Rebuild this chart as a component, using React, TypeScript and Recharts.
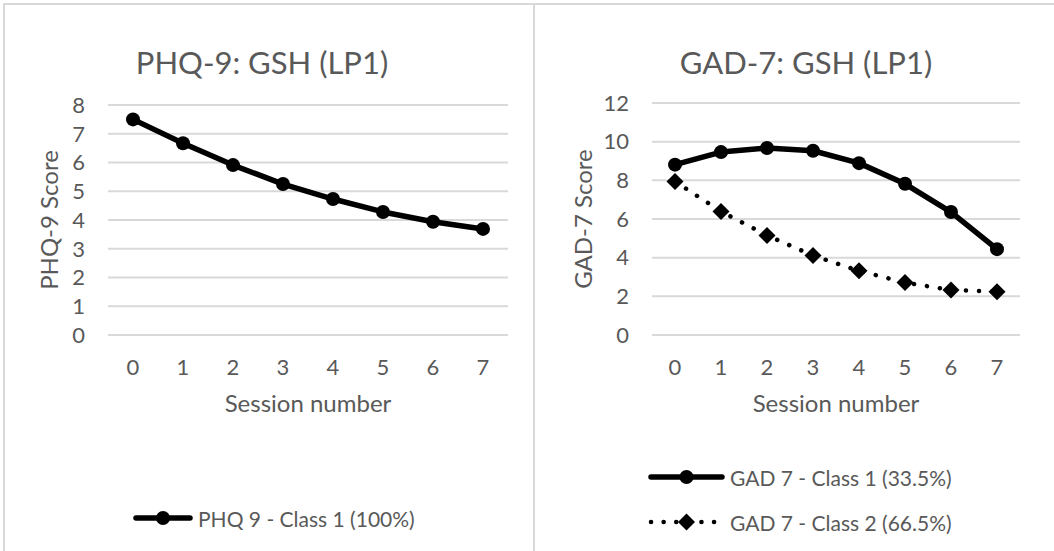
import { LineChart, Line, XAxis, YAxis, CartesianGrid, Legend, Label } from 'recharts'

const FONT = 'Lato, "Open Sans", sans-serif'
const INK = '#595959'
const GRID = '#d9d9d9'
const LINE = '#000000'

const sessions = [0, 1, 2, 3, 4, 5, 6, 7]
const phq9Class1 = [7.5, 6.67, 5.91, 5.25, 4.73, 4.28, 3.94, 3.69]
const gad7Class1 = [8.81, 9.46, 9.67, 9.53, 8.89, 7.82, 6.36, 4.44]
const gad7Class2 = [7.94, 6.39, 5.15, 4.11, 3.32, 2.71, 2.33, 2.24]

const phqTicks = [0, 1, 2, 3, 4, 5, 6, 7, 8]
const gadTicks = [0, 2, 4, 6, 8, 10, 12]

const phqData = sessions.map((s, i) => ({ session: s, phq1: phq9Class1[i] }))
const gadData = sessions.map((s, i) => ({
  session: s,
  gad1: gad7Class1[i],
  gad2: gad7Class2[i],
}))

const DOTTED = '0.1 13'

function Diamond(props: any) {
  const { cx, cy } = props
  if (cx == null || cy == null) return null
  const s = 8.5
  return (
    <polygon
      points={`${cx},${cy - s} ${cx + s},${cy} ${cx},${cy + s} ${cx - s},${cy}`}
      fill={LINE}
    />
  )
}

type Key = { label: string; dotted?: boolean; marker: 'circle' | 'diamond' }

// legend rows: line sample with its marker, then the label
function legendContent(items: Key[], lineW: number, rowGap: number) {
  return () => (
    <div style={{ fontFamily: FONT, color: INK, fontSize: 21 }}>
      {items.map((k, i) => (
        <div
          key={k.label}
          style={{
            display: 'flex',
            alignItems: 'center',
            height: 24,
            marginTop: i ? rowGap : 0,
            whiteSpace: 'nowrap',
          }}
        >
          <svg width={lineW} height={24} style={{ marginRight: 5 }}>
            <line
              x1={3}
              x2={lineW - 3}
              y1={12}
              y2={12}
              stroke={LINE}
              strokeWidth={k.dotted ? 4.5 : 5.5}
              strokeLinecap="round"
              strokeDasharray={k.dotted ? '0.1 12.5' : undefined}
            />
            {k.marker === 'circle' ? (
              <circle cx={lineW / 2} cy={12} r={7} fill={LINE} />
            ) : (
              <Diamond cx={lineW / 2} cy={12} />
            )}
          </svg>
          <span>{k.label}</span>
        </div>
      ))}
    </div>
  )
}

function yTitle(text: string, dx: number) {
  return (props: any) => {
    const { x, y, height } = props.viewBox
    const cx = x + dx
    const cy = y + height / 2
    return (
      <text
        x={cx}
        y={cy}
        transform={`rotate(-90 ${cx} ${cy})`}
        textAnchor="middle"
        dominantBaseline="central"
        fill={INK}
        fontSize={24}
        fontFamily={FONT}
      >
        {text}
      </text>
    )
  }
}

const tickStyle = { fill: INK, fontSize: 22, fontFamily: FONT }

function Title({ text, cx }: { text: string; cx: number }) {
  return (
    <div
      style={{
        position: 'absolute',
        left: cx - 200,
        width: 400,
        top: 42,
        textAlign: 'center',
        fontFamily: FONT,
        fontSize: 31,
        color: INK,
        lineHeight: '40px',
      }}
    >
      {text}
    </div>
  )
}

export default function App() {
  return (
    <div
      style={{
        position: 'absolute',
        left: 0,
        top: 0,
        width: 1054,
        height: 551,
        overflow: 'hidden',
        background: '#fff',
      }}
    >
      {/* frame lines */}
      <div style={{ position: 'absolute', left: 3, top: 3, width: 1051, height: 2, background: GRID }} />
      <div style={{ position: 'absolute', left: 3, top: 3, width: 2, height: 548, background: GRID }} />
      <div style={{ position: 'absolute', left: 533, top: 3, width: 2, height: 548, background: GRID }} />

      <Title text="PHQ-9: GSH (LP1)" cx={262} />
      <Title text="GAD-7: GSH (LP1)" cx={806} />

      <div style={{ position: 'absolute', left: 0, top: 0 }}>
        <LineChart
          width={534}
          height={551}
          data={phqData}
          margin={{ top: 105, right: 26, bottom: 139, left: 38 }}
        >
          <CartesianGrid vertical={false} stroke={GRID} strokeWidth={2} />
          <XAxis
            dataKey="session"
            type="number"
            domain={[-0.5, 7.5]}
            ticks={sessions}
            interval={0}
            axisLine={false}
            tickLine={false}
            tickSize={0}
            tickMargin={24}
            height={77}
            tick={tickStyle}
          >
            <Label
              value="Session number"
              position="insideBottom"
              offset={0}
              fill={INK}
              fontSize={24}
              fontFamily={FONT}
            />
          </XAxis>
          <YAxis
            domain={[0, 8]}
            ticks={phqTicks}
            interval={0}
            axisLine={false}
            tickLine={false}
            tickSize={0}
            tickMargin={23}
            width={70}
            tick={tickStyle}
          >
            <Label content={yTitle('PHQ-9 Score', 10)} />
          </YAxis>
          <Legend
            layout="vertical"
            align="center"
            verticalAlign="middle"
            wrapperStyle={{ left: 133, top: 506 }}
            content={legendContent(
              [{ label: 'PHQ 9 - Class 1 (100%)', marker: 'circle' }],
              60,
              0,
            )}
          />
          <Line
            dataKey="phq1"
            name="PHQ 9 - Class 1 (100%)"
            stroke={LINE}
            strokeWidth={5.5}
            strokeLinejoin="round"
            dot={{ r: 7, fill: LINE, stroke: 'none' }}
            activeDot={false}
            isAnimationActive={false}
          />
        </LineChart>
      </div>

      <div style={{ position: 'absolute', left: 534, top: 0 }}>
        <LineChart
          width={520}
          height={551}
          data={gadData}
          margin={{ top: 103, right: 34, bottom: 139, left: 48 }}
        >
          <CartesianGrid vertical={false} stroke={GRID} strokeWidth={2} />
          <XAxis
            dataKey="session"
            type="number"
            domain={[-0.5, 7.5]}
            ticks={sessions}
            interval={0}
            axisLine={false}
            tickLine={false}
            tickSize={0}
            tickMargin={24}
            height={77}
            tick={tickStyle}
          >
            <Label
              value="Session number"
              position="insideBottom"
              offset={0}
              fill={INK}
              fontSize={24}
              fontFamily={FONT}
            />
          </XAxis>
          <YAxis
            domain={[0, 12]}
            ticks={gadTicks}
            interval={0}
            axisLine={false}
            tickLine={false}
            tickSize={0}
            tickMargin={23}
            width={70}
            tick={tickStyle}
          >
            <Label content={yTitle('GAD-7 Score', 0)} />
          </YAxis>
          <Legend
            layout="vertical"
            align="center"
            verticalAlign="middle"
            wrapperStyle={{ left: 114, top: 465 }}
            content={legendContent(
              [
                { label: 'GAD 7 - Class 1 (33.5%)', marker: 'circle' },
                { label: 'GAD 7 - Class 2 (66.5%)', marker: 'diamond', dotted: true },
              ],
              77,
              21,
            )}
          />
          <Line
            dataKey="gad1"
            name="GAD 7 - Class 1 (33.5%)"
            stroke={LINE}
            strokeWidth={5.5}
            strokeLinejoin="round"
            dot={{ r: 7, fill: LINE, stroke: 'none' }}
            activeDot={false}
            isAnimationActive={false}
          />
          <Line
            dataKey="gad2"
            name="GAD 7 - Class 2 (66.5%)"
            stroke={LINE}
            strokeWidth={4.5}
            strokeLinecap="round"
            strokeDasharray={DOTTED}
            dot={<Diamond />}
            activeDot={false}
            isAnimationActive={false}
          />
        </LineChart>
      </div>
    </div>
  )
}
